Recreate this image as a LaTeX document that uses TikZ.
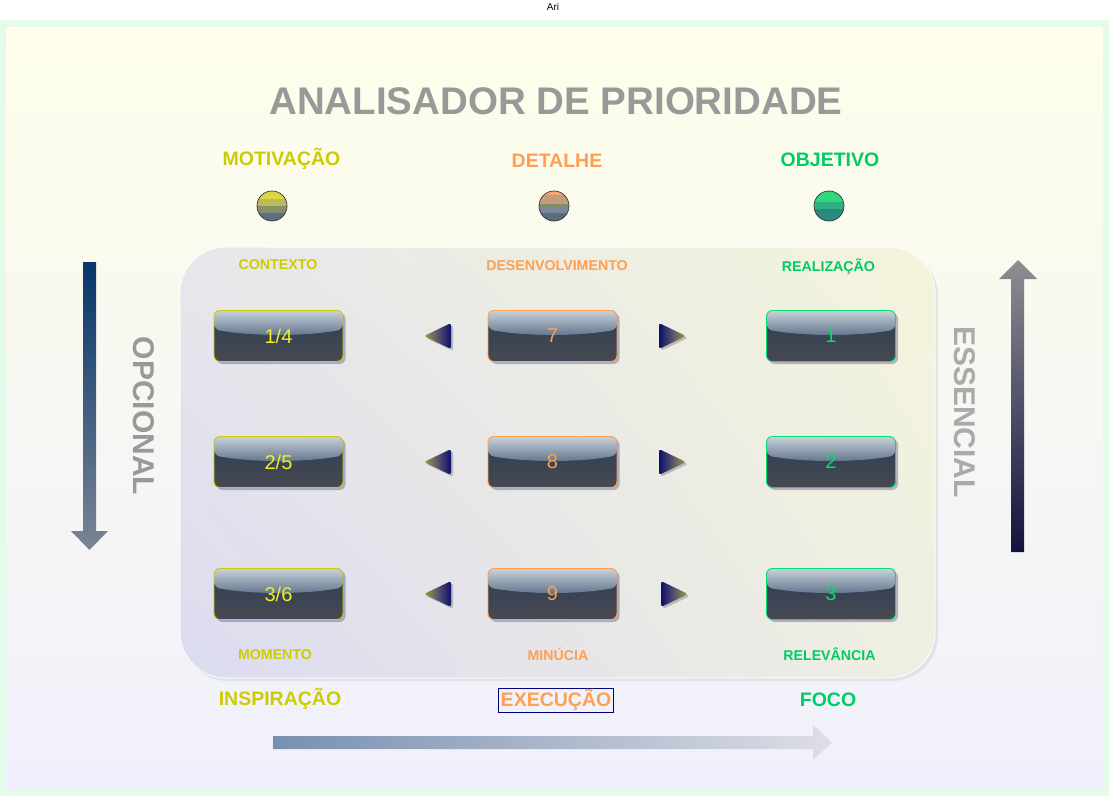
\documentclass[tikz,border=0pt]{standalone}
\usepackage{fontspec}
\setmainfont{Liberation Sans}
\usetikzlibrary{shadows,shadings}
\definecolor{mintframe}{HTML}{E4FBE9}
\definecolor{bgtop}{HTML}{FEFEEA}
\definecolor{bgbot}{HTML}{F0F0FC}
\definecolor{titlegrey}{HTML}{999999}
\definecolor{sidegrey}{HTML}{AAAAAA}
\definecolor{ylw}{HTML}{CCCC00}
\definecolor{org}{HTML}{FF9F50}
\definecolor{grn}{HTML}{00CC66}
\definecolor{ylwtxt}{HTML}{EEF022}
\definecolor{grntxt}{HTML}{00E070}
\definecolor{navybox}{HTML}{000080}
\definecolor{glosstop}{HTML}{C8D2DC}
\definecolor{glossbot}{HTML}{5E7288}
\definecolor{bodytop}{HTML}{2C3E55}
\definecolor{bodybot}{HTML}{474951}
\definecolor{panUL}{HTML}{E7E7EB}
\definecolor{panLL}{HTML}{DBDBF0}
\definecolor{panUR}{HTML}{F4F4DC}
\definecolor{panLR}{HTML}{EFEFE2}
\definecolor{panshadow}{HTML}{D4D8E0}
\definecolor{triolive}{HTML}{A29C40}
\definecolor{trimid}{HTML}{58566A}
\definecolor{trinavy}{HTML}{0E0E6E}
\definecolor{laTop}{HTML}{06376A}
\definecolor{laMid}{HTML}{3E5876}
\definecolor{laBot}{HTML}{7A8494}
\definecolor{raTop}{HTML}{8E8E92}
\definecolor{raMid}{HTML}{444A58}
\definecolor{raBot}{HTML}{12123E}
\definecolor{baL}{HTML}{7890B0}
\definecolor{baR}{HTML}{DEDEE6}
\definecolor{ya}{HTML}{DADA40}
\definecolor{yb}{HTML}{BABA5C}
\definecolor{yc}{HTML}{888E66}
\definecolor{yd}{HTML}{5F6E80}
\definecolor{oa}{HTML}{F4A874}
\definecolor{ob}{HTML}{C69C7A}
\definecolor{oc}{HTML}{7E8C6C}
\definecolor{od}{HTML}{7C8898}
\definecolor{oe}{HTML}{5C6C80}
\definecolor{ga}{HTML}{30D880}
\definecolor{gb}{HTML}{30B080}
\definecolor{gc}{HTML}{2B8A80}
\begin{document}
\begin{tikzpicture}[x=1pt,y=-1pt,
  head/.style={font=\bfseries\fontsize{19.5}{20}\selectfont, anchor=base, inner sep=0pt},
  sub/.style={font=\bfseries\fontsize{14.2}{15}\selectfont, anchor=base, inner sep=0pt},
  side/.style={font=\bfseries\fontsize{30}{30}\selectfont, rotate=-90, inner sep=0pt},
  btn/.style={draw=#1, line width=0.9pt, rounded corners=6pt, minimum width=129pt,
    minimum height=51pt, inner sep=0pt, font=\fontsize{20}{20}\selectfont,
    drop shadow={shadow xshift=2.5pt, shadow yshift=-2.5pt, fill=black!70!blue, opacity=0.25},
    path picture={
      \shade[top color=bodytop, bottom color=bodybot]
        (path picture bounding box.north west) rectangle (path picture bounding box.south east);
      \shade[top color=glosstop, bottom color=glossbot]
        (path picture bounding box.north west) -- (path picture bounding box.north east)
        -- ([yshift=-19pt]path picture bounding box.north east)
        .. controls ([xshift=-40pt,yshift=-26pt]path picture bounding box.north east)
        and ([xshift=40pt,yshift=-26pt]path picture bounding box.north west)
        .. ([yshift=-19pt]path picture bounding box.north west) -- cycle;
      \draw[white!90!yellow, line width=1.6pt]
        ([xshift=3pt]path picture bounding box.north west) -- ([xshift=-3pt]path picture bounding box.north east);
    }},
  orb/.style={circle, minimum size=30pt, inner sep=0pt, draw=black!80, line width=0.7pt,
    path picture={
      \foreach \c/\a/\b in {#1} {
        \fill[\c] ([yshift=-\a pt]path picture bounding box.north west)
          rectangle ([yshift=-\b pt]path picture bounding box.north east);
      }}},
  trishade/.style 2 args={left color=#1, right color=#2, middle color=trimid, rounded corners=2.5pt},
  trishadow/.style={fill=black, opacity=0.2, rounded corners=2.5pt}
]
\useasboundingbox (0,0) rectangle (1109,796);
% background
\fill[white] (0,0) rectangle (1109,796);
\fill[mintframe] (0,20) rectangle (1109,796);
\shade[top color=bgtop, bottom color=bgbot] (6,27) rectangle (1103,789);
\node[font=\fontsize{10}{10}\selectfont] (ari) at (553,7) {Ari};

% title and headers
\node[font=\bfseries\fontsize{38.5}{40}\selectfont, text=titlegrey, anchor=base, inner sep=0pt] (title) at (556,114) {ANALISADOR DE PRIORIDADE};
\node[head, text=ylw] (motiv) at (281.5,165) {MOTIVAÇÃO};
\node[head, text=org] (detal) at (557,167) {DETALHE};
\node[head, text=grn] (objet) at (830,166) {OBJETIVO};

% orbs
\node[orb={ya/0/8,yb/8/15,yc/15/22,yd/22/32}] (orb1) at (272,206) {};
\node[orb={oa/0/4,ob/4/13,oc/13/16,od/16/22,oe/22/32}] (orb2) at (554,206) {};
\node[orb={ga/0/11,gb/11/18,gc/18/32}] (orb3) at (829,206) {};

% central panel
\fill[panshadow, opacity=0.6, rounded corners=46pt] (182,250) rectangle (938,681);
\shade[rounded corners=46pt, upper left=panUL, upper right=panUR, lower left=panLL, lower right=panLR] (180,247) rectangle (935,678);
\draw[white, opacity=0.7, line width=1.2pt, rounded corners=46pt] (180,247) rectangle (935,678);

% sub labels
\node[sub, text=ylw] (ctx) at (278,269) {CONTEXTO};
\node[sub, text=org] (desenv) at (557,270) {DESENVOLVIMENTO};
\node[sub, text=grn] (realiz) at (828.5,271) {REALIZAÇÃO};
\node[sub, text=ylw] (momen) at (275,659) {MOMENTO};
\node[sub, text=org] (minuc) at (558,660) {MINÚCIA};
\node[sub, text=grn] (relev) at (829.5,660) {RELEVÂNCIA};

% buttons
\node[btn=ylw, text=ylwtxt] (b14) at (278.5,336) {1/4};
\node[btn=ylw, text=ylwtxt] (b25) at (278.5,462) {2/5};
\node[btn=ylw, text=ylwtxt] (b36) at (278.5,594) {3/6};
\node[btn=org, text=org] (b7) at (552.5,336) {7};
\node[btn=org, text=org] (b8) at (552.5,462) {8};
\node[btn=org, text=org] (b9) at (552.5,594) {9};
\node[btn=grntxt, text=grntxt] (b1) at (831,336) {1};
\node[btn=grntxt, text=grntxt] (b2) at (831,462) {2};
\node[btn=grntxt, text=grntxt] (b3) at (831,594) {3};

% small triangles
\foreach \yy/\rx in {336/672, 462/672, 594/674} {
  \fill[trishadow] (426,\yy+2) -- (453,\yy-11) -- (453,\yy+15) -- cycle;
  \shade[trishade={triolive}{trinavy}] (424,\yy) -- (451,\yy-13) -- (451,\yy+13) -- cycle;
  \fill[trishadow] (\rx-11,\yy-11) -- (\rx+16,\yy+2) -- (\rx-11,\yy+15) -- cycle;
  \shade[trishade={trinavy}{triolive}] (\rx-13,\yy-13) -- (\rx+14,\yy) -- (\rx-13,\yy+13) -- cycle;
}

% side arrows
\shade[top color=laTop, middle color=laMid, bottom color=laBot]
  (83,262) -- (96,262) -- (96,531) -- (108,531) -- (89.5,550) -- (71,531) -- (83,531) -- cycle;
\node[side, text=titlegrey] (opc) at (144,416) {OPCIONAL};
\shade[top color=raTop, middle color=raMid, bottom color=raBot]
  (1011,552) -- (1024,552) -- (1024,279) -- (1037,279) -- (1018,260) -- (999,279) -- (1011,279) -- cycle;
\node[side, text=sidegrey] (ess) at (965,412) {ESSENCIAL};

% bottom labels
\node[head, text=ylw] (insp) at (280,705) {INSPIRAÇÃO};
\node[draw=navybox, line width=0.8pt, font=\bfseries\fontsize{19.5}{20}\selectfont, text=org,
  inner xsep=2.5pt, inner ysep=0pt, minimum height=24pt, text height=15pt, text depth=3pt] (exec) at (556,700) {EXECUÇÃO};
\node[head, text=grn] (foco) at (828,706) {FOCO};

% bottom arrow
\shade[left color=baL, right color=baR]
  (273,736) -- (813,736) -- (813,725) -- (832,742.5) -- (813,760) -- (813,749) -- (273,749) -- cycle;
\end{tikzpicture}
\end{document}
